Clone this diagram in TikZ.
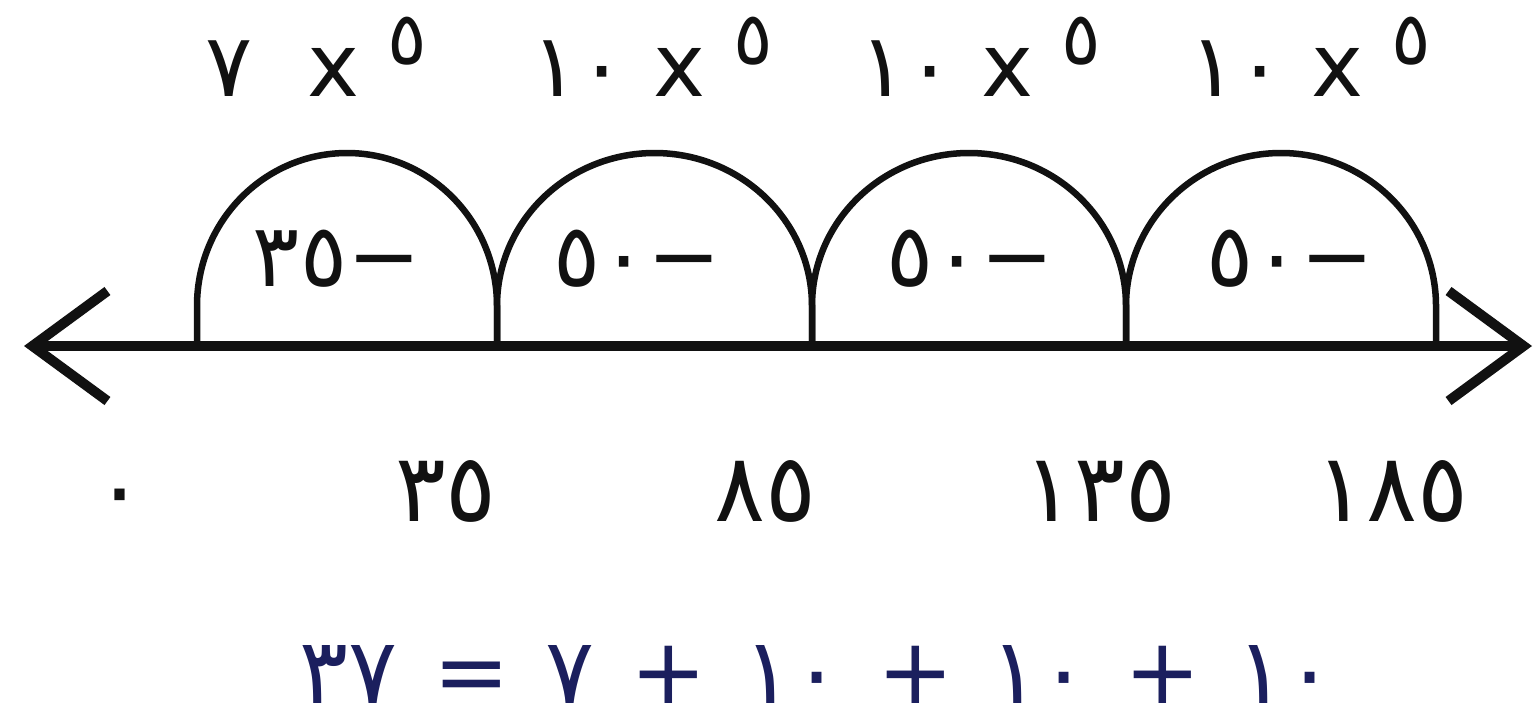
\documentclass[tikz,border=0pt]{standalone}
\usepackage{fontspec}
\newfontfamily\arabicfont[Script=Arabic]{DejaVu Sans}
\usepackage{xcolor}
\definecolor{cInk}{HTML}{111111}
\definecolor{cNavy}{HTML}{1B1F5E}
\usepackage{tikz}
\usetikzlibrary{arrows.meta}
\newcommand{\upfive}{\raisebox{3.2mm}{\fontsize{21}{22}\selectfont ٥}}
\newcommand{\jump}[1]{\hbox{#1}\hbox{−}}
\newcommand{\gap}{\hspace{3.6mm}}
\tikzset{
  num-line/.style={line width=1mm,draw=cInk,
    {Straight Barb[length=7.5mm,width=11mm]}-{Straight Barb[length=7.5mm,width=11mm]}},
  hump/.style={line width=0.65mm,draw=cInk},
  lbl-top/.style={font=\arabicfont\fontsize{25}{28}\selectfont,text=cInk,inner sep=0pt,anchor=base},
  lbl-jump/.style={font=\arabicfont\fontsize{25}{28}\selectfont,text=cInk,inner sep=0pt,anchor=base},
  lbl-tick/.style={font=\arabicfont\fontsize{27}{30}\selectfont,text=cInk,inner sep=0pt,anchor=base},
  lbl-eq/.style={font=\arabicfont\fontsize{26}{29}\selectfont,text=cNavy,inner sep=0pt,anchor=base},
}

\begin{document}
\begin{tikzpicture}
  \useasboundingbox (0,0) rectangle (153.6mm,72.6mm);
  % number line and the feet of the jumps
  \coordinate (L) at (2.4mm,38mm);
  \coordinate (R) at (153.2mm,38mm);
  \foreach \name/\x in {f0/19.7, f1/49.7, f2/81.2, f3/112.6, f4/143.6}
    \coordinate (\name) at (\x mm,38mm);
  \draw[num-line] (L) -- (R);
  \foreach \a/\b/\r in {f0/f1/15, f1/f2/15.75, f2/f3/15.7, f3/f4/15.5}
    \draw[hump] (\a) -- ++(0,4mm)
      arc[start angle=180,end angle=0,x radius=\r mm,y radius=15.3mm] -- (\b);
  \foreach \name/\x/\txt in {t1/31.6/٧\hspace{5.5mm}x \upfive, t2/65.2/١٠ x \upfive,
      t3/98.0/١٠ x \upfive, t4/131.0/١٠ x \upfive}
    \node[lbl-top] (\name) at (\x mm,63mm) {\txt};
  \foreach \name/\x/\txt in {j1/33.7/\jump{٣٥}, j2/63.7/\jump{٥٠}, j3/97.0/\jump{٥٠}, j4/129.0/\jump{٥٠}}
    \node[lbl-jump] (\name) at (\x mm,44mm) {\txt};
  \foreach \name/\x/\txt in {n0/12.0/٠, n1/44.6/٣٥, n2/76.5/٨٥, n3/110.0/١٣٥, n4/139.2/١٨٥}
    \node[lbl-tick] (\name) at (\x mm,20.5mm) {\txt};
  \node[lbl-eq] (eq) at (81.7mm,2.3mm)
    {٣٧\gap=\gap٧\gap+\gap١٠\gap+\gap١٠\gap+\gap١٠};
\end{tikzpicture}
\end{document}
